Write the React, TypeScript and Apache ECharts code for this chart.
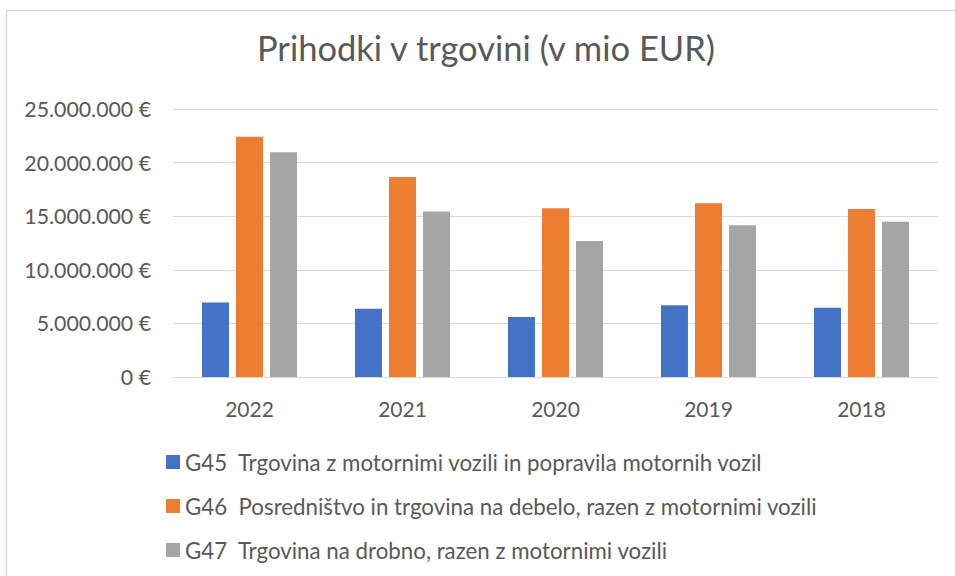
import React, { useEffect, useRef } from "react";
import * as echarts from "echarts";

const categories = ["2022", "2021", "2020", "2019", "2018"];
const seriesNames = [
  "G45  Trgovina z motornimi vozili in popravila motornih vozil",
  "G46  Posredništvo in trgovina na debelo, razen z motornimi vozili",
  "G47  Trgovina na drobno, razen z motornimi vozili",
];
const g45 = [6950000, 6370000, 5600000, 6690000, 6470000];
const g46 = [22420000, 18660000, 15730000, 16200000, 15670000];
const g47 = [20960000, 15450000, 12690000, 14150000, 14490000];
const colors = ["#4472C4", "#ED7D31", "#A5A5A5"];
const titleText = "Prihodki v trgovini (v mio EUR)";

const FONT = "Lato";
const TEXT = "#595959";

function fmt(v: number): string {
  const s = Math.round(v).toString().replace(/\B(?=(\d{3})+(?!\d))/g, ".");
  return s + " €";
}

export default function App() {
  const ref = useRef<HTMLDivElement>(null);
  useEffect(() => {
    document.body.style.margin = "0";
    const chart = echarts.init(ref.current!, undefined, { renderer: "svg" });
    const data = [g45, g46, g47];
    chart.setOption({
      animation: false,
      backgroundColor: "#ffffff",
      title: {
        text: titleText,
        left: 486,
        textAlign: "center",
        top: 27,
        padding: 0,
        textStyle: {
          fontFamily: FONT,
          fontSize: 34.5,
          fontWeight: "normal",
          color: TEXT,
          lineHeight: 40,
        },
      },
      graphic: [
        {
          type: "line",
          shape: { x1: 6.5, y1: 10, x2: 6.5, y2: 576 },
          style: { stroke: "#d9d9d9", lineWidth: 1.5 },
        },
        {
          type: "line",
          shape: { x1: 6, y1: 10.5, x2: 955, y2: 10.5 },
          style: { stroke: "#d9d9d9", lineWidth: 1.5 },
        },
      ],
      legend: {
        orient: "vertical",
        left: 166,
        top: 450,
        padding: 0,
        itemWidth: 14,
        itemHeight: 14,
        itemGap: 20,
        icon: "rect",
        data: seriesNames,
        textStyle: {
          fontFamily: FONT,
          fontSize: 22.3,
          color: TEXT,
          lineHeight: 24,
        },
      },
      grid: { left: 173, right: 17, top: 109, bottom: 199, containLabel: false },
      xAxis: {
        type: "category",
        data: categories,
        axisTick: { show: false },
        axisLine: { lineStyle: { color: "#d9d9d9", width: 1 } },
        axisLabel: {
          fontFamily: FONT,
          fontSize: 21,
          color: TEXT,
          margin: 21,
        },
      },
      yAxis: {
        type: "value",
        min: 0,
        max: 25000000,
        interval: 5000000,
        axisLine: { show: false },
        axisTick: { show: false },
        splitLine: { lineStyle: { color: "#d9d9d9", width: 1 } },
        axisLabel: {
          fontFamily: FONT,
          fontSize: 21.3,
          color: TEXT,
          margin: 22,
          formatter: (v: number) => fmt(v),
        },
      },
      series: seriesNames.map((name, i) => ({
        name,
        type: "bar",
        data: data[i],
        barWidth: 27,
        barGap: "26%",
        itemStyle: { color: colors[i] },
      })),
    });
    return () => chart.dispose();
  }, []);
  return <div ref={ref} style={{ width: 955, height: 576 }} />;
}
